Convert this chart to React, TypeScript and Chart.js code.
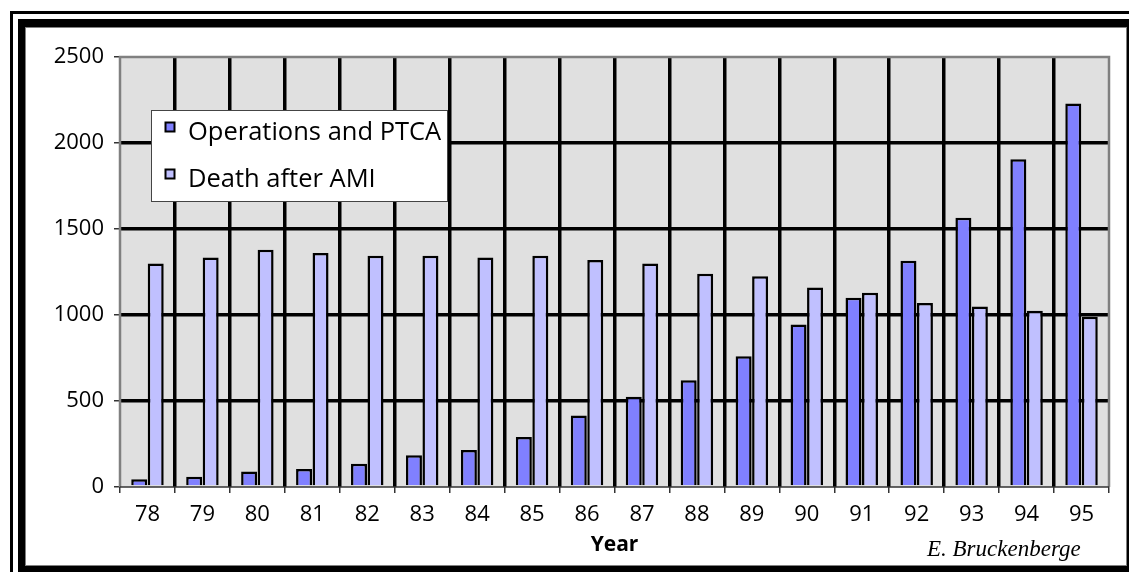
import React, { useEffect, useRef } from "react";
import { Chart, registerables } from "chart.js";

Chart.register(...registerables);

// Years on the category axis (19xx)
const years = ["78", "79", "80", "81", "82", "83", "84", "85", "86", "87", "88", "89", "90", "91", "92", "93", "94", "95"];

// Operations and PTCA per year
const operationsPtca = [45, 60, 90, 105, 135, 185, 215, 290, 415, 525, 620, 760, 945, 1100, 1315, 1565, 1905, 2230];

// Deaths after acute myocardial infarction per year
const deathAfterAmi = [1300, 1335, 1380, 1360, 1345, 1345, 1335, 1345, 1320, 1300, 1240, 1225, 1160, 1130, 1070, 1050, 1025, 990];

const seriesLabels = ["Operations and PTCA", "Death after AMI"];
const seriesColors = ["#8080FF", "#C0C0FF"];

// Value axis range
const yMin = 0;
const yMax = 2500;
const yStep = 500;

const xTitle = "Year";
const credit = "E. Bruckenberge";

const W = 1129;
const H = 572;
const SANS = "'Open Sans', 'Noto Sans', sans-serif";

// Grey plot background, drawn under the grid
const plotBackground = {
  id: "plotBackground",
  beforeDraw(chart: any) {
    const { ctx, chartArea: a } = chart;
    ctx.save();
    ctx.fillStyle = "#E0E0E0";
    ctx.fillRect(a.left, a.top, a.right - a.left, a.bottom - a.top);
    ctx.restore();
  },
};

// Plot frame, drawn over the grid and under the bars
const plotFrame = {
  id: "plotFrame",
  beforeDatasetsDraw(chart: any) {
    const { ctx, chartArea: a } = chart;
    ctx.save();
    ctx.strokeStyle = "#808080";
    ctx.lineWidth = 2.5;
    ctx.beginPath();
    ctx.moveTo(a.left, a.bottom);
    ctx.lineTo(a.left, a.top);
    ctx.lineTo(a.right, a.top);
    ctx.lineTo(a.right, a.bottom);
    ctx.stroke();
    ctx.strokeStyle = "#333";
    ctx.lineWidth = 1.5;
    ctx.beginPath();
    ctx.moveTo(a.left, a.bottom);
    ctx.lineTo(a.right, a.bottom);
    ctx.stroke();
    ctx.restore();
  },
};

// Boxed legend placed inside the plot area
const boxedLegend = {
  id: "boxedLegend",
  afterDatasetsDraw(chart: any) {
    const { ctx } = chart;
    const x = 151.5;
    const y = 110.5;
    const w = 296;
    const h = 91;
    ctx.save();
    ctx.fillStyle = "#FFFFFF";
    ctx.fillRect(x, y, w, h);
    ctx.strokeStyle = "#444";
    ctx.lineWidth = 1;
    ctx.strokeRect(x, y, w, h);
    ctx.font = `25.5px ${SANS}`;
    ctx.textBaseline = "alphabetic";
    ctx.textAlign = "left";
    chart.data.datasets.forEach((ds: any, i: number) => {
      const rowTop = 122.5 + i * 47;
      ctx.fillStyle = ds.backgroundColor;
      ctx.fillRect(165.5, rowTop, 9, 9);
      ctx.strokeStyle = "#000";
      ctx.lineWidth = 2;
      ctx.strokeRect(165.5, rowTop, 9, 9);
      ctx.fillStyle = "#000";
      ctx.fillText(ds.label, 188, rowTop + 17.5);
    });
    ctx.restore();
  },
};

// Author credit in the lower right corner
const creditLine = {
  id: "creditLine",
  afterDraw(chart: any) {
    const { ctx } = chart;
    ctx.save();
    ctx.font = "italic 23px 'Liberation Serif', 'Times New Roman', serif";
    ctx.fillStyle = "#000";
    ctx.textAlign = "left";
    ctx.textBaseline = "alphabetic";
    ctx.fillText(credit, 927, 556);
    ctx.restore();
  },
};

function BarChart() {
  const canvasRef = useRef<HTMLCanvasElement | null>(null);

  useEffect(() => {
    const canvas = canvasRef.current;
    if (!canvas) return;
    const lastBoundary = years.length;
    const chart = new Chart(canvas, {
      type: "bar",
      data: {
        labels: years,
        datasets: [
          {
            label: seriesLabels[0],
            data: operationsPtca,
            backgroundColor: seriesColors[0],
            borderColor: "#000",
            borderWidth: 2.5,
          },
          {
            label: seriesLabels[1],
            data: deathAfterAmi,
            backgroundColor: seriesColors[1],
            borderColor: "#000",
            borderWidth: 2.5,
          },
        ],
      },
      options: {
        responsive: false,
        animation: false,
        devicePixelRatio: 1,
        layout: { padding: { left: 0, top: 57, right: 20, bottom: 0 } },
        datasets: {
          bar: { categoryPercentage: 0.6, barPercentage: 0.97 },
        },
        plugins: {
          legend: { display: false },
          tooltip: { enabled: false },
          title: { display: false },
        },
        scales: {
          x: {
            afterFit(scale: any) {
              scale.height = 85;
            },
            grid: {
              offset: true,
              color: (c: any) =>
                c.type === "tick" && c.index > 0 && c.index < lastBoundary ? "#000" : "rgba(0,0,0,0)",
              lineWidth: 3.5,
              drawTicks: true,
              tickLength: 6,
              tickColor: "#333",
              tickWidth: 1.5,
            },
            border: { display: false },
            ticks: {
              color: "#000",
              font: { family: SANS, size: 22 },
              padding: 9,
              maxRotation: 0,
              autoSkip: false,
            },
            title: {
              display: true,
              text: xTitle,
              color: "#000",
              font: { family: SANS, size: 21, weight: "bold" },
              padding: { top: 0, bottom: 14 },
            },
          },
          y: {
            min: yMin,
            max: yMax,
            afterFit(scale: any) {
              scale.width = 120;
            },
            grid: {
              color: (c: any) =>
                c.type === "tick" && c.tick && c.tick.value > yMin && c.tick.value < yMax ? "#000" : "rgba(0,0,0,0)",
              lineWidth: 3.5,
              drawTicks: true,
              tickLength: 6,
              tickColor: "#333",
              tickWidth: 1.5,
            },
            border: { display: false },
            ticks: {
              stepSize: yStep,
              color: "#000",
              font: { family: SANS, size: 22 },
              padding: 10,
              callback: (v: any) => String(v),
            },
          },
        },
      },
      plugins: [plotBackground, plotFrame, boxedLegend, creditLine],
    } as any);
    return () => chart.destroy();
  }, []);

  return (
    <canvas
      ref={canvasRef}
      width={W}
      height={H}
      style={{ position: "absolute", left: 0, top: 0, width: W, height: H }}
    />
  );
}

export default function App() {
  return (
    <div
      style={{
        position: "fixed",
        left: 0,
        top: 0,
        width: W,
        height: H,
        overflow: "hidden",
        background: "#FFFFFF",
      }}
    >
      {/* thin outer frame */}
      <div
        style={{
          position: "absolute",
          left: 10,
          top: 11,
          width: 1300,
          height: 800,
          border: "3px solid #000",
        }}
      />
      {/* heavy inner frame */}
      <div
        style={{
          position: "absolute",
          left: 18,
          top: 19,
          width: 1102,
          height: 539,
          borderStyle: "solid",
          borderColor: "#000",
          borderLeftWidth: 7,
          borderRightWidth: 7,
          borderTopWidth: 8,
          borderBottomWidth: 8,
          background: "#FFFFFF",
          boxShadow: "inset 0 0 0 1px #808080",
        }}
      />
      <BarChart />
    </div>
  );
}
